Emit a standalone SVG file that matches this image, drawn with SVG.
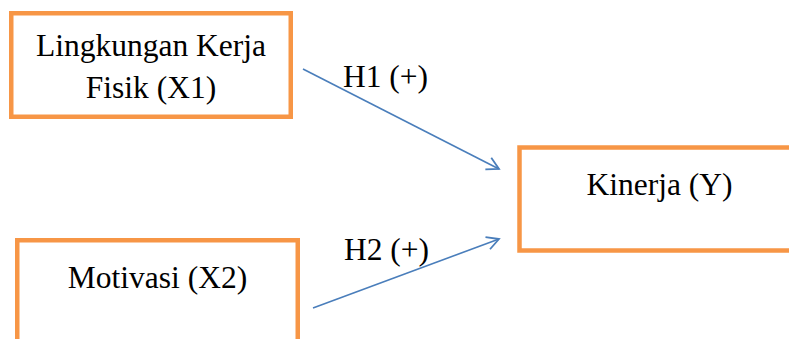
<svg xmlns="http://www.w3.org/2000/svg" width="789" height="339" viewBox="0 0 789 339">
  <style>
    .box { fill: #ffffff; stroke: #f79646; stroke-width: 4.5; }
    .label { font-family: "Liberation Serif", "Times New Roman", serif; font-size: 31.5px; fill: #000000; text-anchor: middle; }
    .link { stroke: #4a7ebb; stroke-width: 1.6; fill: none; marker-end: url(#arrow); }
  </style>
  <defs>
    <marker id="arrow" viewBox="0 0 16 16" refX="14" refY="8" markerWidth="16" markerHeight="16" markerUnits="userSpaceOnUse" orient="auto">
      <path d="M2,1.5 L14,8 L2,14.5" fill="none" stroke="#4a7ebb" stroke-width="1.8"/>
    </marker>
  </defs>
  <rect width="789" height="339" fill="#ffffff"/>

  <g id="connectors">
    <line class="link" x1="303" y1="69" x2="499" y2="169"/>
    <line class="link" x1="313" y1="308" x2="499" y2="239"/>
    <text class="label" x="385.5" y="87">H1 (+)</text>
    <text class="label" x="386.5" y="260">H2 (+)</text>
  </g>

  <g id="x1">
    <rect class="box" x="11.25" y="13.25" width="279.5" height="103.5"/>
    <text class="label" x="151" y="56">Lingkungan Kerja</text>
    <text class="label" x="151" y="98">Fisik (X1)</text>
  </g>

  <g id="y">
    <rect class="box" x="519.5" y="147.5" width="290" height="103"/>
    <text class="label" x="659.5" y="195">Kinerja (Y)</text>
  </g>

  <g id="x2">
    <rect class="box" x="17.25" y="240.25" width="280.5" height="130"/>
    <text class="label" x="157.5" y="288">Motivasi (X2)</text>
  </g>
</svg>
